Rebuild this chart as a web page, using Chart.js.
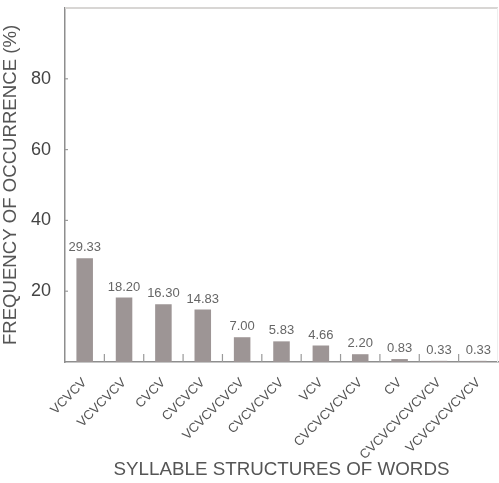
<!DOCTYPE html>
<html>
<head>
<meta charset="utf-8">
<script src="https://cdn.jsdelivr.net/npm/chart.js@4.4.0/dist/chart.umd.min.js"></script>
<style>
  html, body { margin: 0; padding: 0; background: #fff; }
  #wrap { width: 499px; height: 483px; }
</style>
</head>
<body>
<div id="wrap"><canvas id="myChart"></canvas></div>
<script>
const categories = [
  'VCVCV', 'VCVCVCV', 'CVCV', 'CVCVCV', 'VCVCVCVCV', 'CVCVCVCV',
  'VCV', 'CVCVCVCVCV', 'CV', 'CVCVCVCVCVCV', 'VCVCVCVCVCV'
];
const frequencies = [29.33, 18.20, 16.30, 14.83, 7.00, 5.83, 4.66, 2.20, 0.83, 0.33, 0.33];
const yTicks = [20, 40, 60, 80];

const fontFamily = '"Liberation Sans", Arial, sans-serif';

// value labels, frame, and the little inside tick marks
const extras = {
  id: 'extras',
  afterDatasetsDraw( chart ) {
    const { ctx, chartArea, scales } = chart;
    const meta = chart.getDatasetMeta( 0 );
    ctx.save();
    ctx.font = '13px ' + fontFamily;
    ctx.fillStyle = '#666';
    ctx.textAlign = 'center';
    ctx.textBaseline = 'bottom';
    meta.data.forEach( ( bar, i ) => {
      ctx.fillText( frequencies[i].toFixed( 2 ), bar.x, bar.y - 4 );
    });

    // top and right frame
    ctx.strokeStyle = '#d8d6d4';
    ctx.lineWidth = 2;
    ctx.beginPath();
    ctx.moveTo( chartArea.left, chartArea.top );
    ctx.lineTo( chartArea.right, chartArea.top );
    ctx.stroke();
    ctx.strokeStyle = '#eeeeee';
    ctx.lineWidth = 1;
    ctx.beginPath();
    ctx.moveTo( chartArea.right - 0.5, chartArea.top );
    ctx.lineTo( chartArea.right - 0.5, chartArea.bottom );
    ctx.stroke();

    // separators between categories
    ctx.strokeStyle = '#9a9a9a';
    ctx.lineWidth = 1.2;
    for ( let i = 1; i < categories.length; i++ ) {
      const x = ( scales.x.getPixelForValue( i - 1 ) + scales.x.getPixelForValue( i ) ) / 2;
      ctx.beginPath();
      ctx.moveTo( x, chartArea.bottom );
      ctx.lineTo( x, chartArea.bottom - 8 );
      ctx.stroke();
    }

    // y ticks inside
    yTicks.forEach( v => {
      const y = scales.y.getPixelForValue( v );
      ctx.beginPath();
      ctx.moveTo( chartArea.left, y );
      ctx.lineTo( chartArea.left + 3, y );
      ctx.stroke();
    });
    ctx.restore();
  }
};

const data = {
  labels: categories,
  datasets: [
    {
      data: frequencies,
      backgroundColor: '#9d9595',
      borderWidth: 0,
      barPercentage: 0.42,
      categoryPercentage: 1
    }
  ]
};

const options = {
  animation: false,
  responsive: true,
  maintainAspectRatio: false,
  layout: {
    padding: { top: 8, right: 1, left: 0, bottom: 0 }
  },
  plugins: {
    legend: { display: false },
    tooltip: { enabled: false }
  },
  scales: {
    x: {
      offset: true,
      grid: { display: false },
      border: { display: true, color: '#8e8e8e', width: 1.5 },
      ticks: {
        color: '#555',
        font: { family: fontFamily, size: 13 },
        minRotation: 45,
        maxRotation: 45,
        autoSkip: false,
        padding: 5
      },
      title: {
        display: true,
        text: 'SYLLABLE STRUCTURES OF WORDS',
        color: '#555',
        font: { family: fontFamily, size: 18.8 },
        padding: { top: 0, bottom: 2 }
      },
      afterFit( scale ) {
        scale.height = 121;
        scale.paddingLeft = 0;
        scale.paddingRight = 0;
      }
    },
    y: {
      min: 0,
      max: 100,
      grid: { display: false },
      border: { display: true, color: '#8e8e8e', width: 1.5 },
      afterBuildTicks( scale ) {
        scale.ticks = yTicks.map( v => ({ value: v }) );
      },
      ticks: {
        color: '#444',
        font: { family: fontFamily, size: 18 },
        padding: 6
      },
      title: {
        display: true,
        text: 'FREQUENCY OF OCCURRENCE (%)',
        color: '#555',
        font: { family: fontFamily, size: 18.6 },
        padding: { top: 0, bottom: 2 }
      },
      afterFit( scale ) {
        scale.width = 65;
        scale.paddingTop = 0;
        scale.paddingBottom = 0;
      }
    }
  }
};

new Chart( document.getElementById( 'myChart' ), {
  type: 'bar',
  data,
  options,
  plugins: [ extras ]
});
</script>
</body>
</html>
